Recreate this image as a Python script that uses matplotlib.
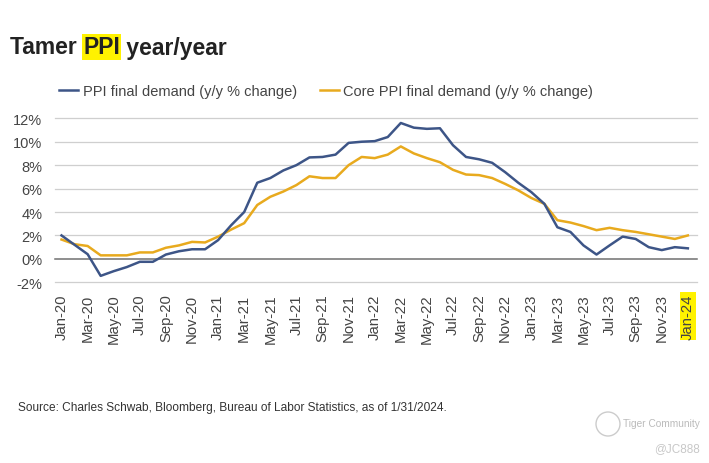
import matplotlib.pyplot as plt
import numpy as np
from matplotlib.patches import Circle
from matplotlib.transforms import IdentityTransform

months = [
    "Jan-20", "Feb-20", "Mar-20", "Apr-20", "May-20", "Jun-20", "Jul-20", "Aug-20",
    "Sep-20", "Oct-20", "Nov-20", "Dec-20", "Jan-21", "Feb-21", "Mar-21", "Apr-21",
    "May-21", "Jun-21", "Jul-21", "Aug-21", "Sep-21", "Oct-21", "Nov-21", "Dec-21",
    "Jan-22", "Feb-22", "Mar-22", "Apr-22", "May-22", "Jun-22", "Jul-22", "Aug-22",
    "Sep-22", "Oct-22", "Nov-22", "Dec-22", "Jan-23", "Feb-23", "Mar-23", "Apr-23",
    "May-23", "Jun-23", "Jul-23", "Aug-23", "Sep-23", "Oct-23", "Nov-23", "Dec-23",
    "Jan-24",
]
ppi = [
    2.0, 1.2, 0.4, -1.45, -1.05, -0.7, -0.25, -0.25, 0.37, 0.65, 0.82, 0.82,
    1.6, 2.87, 4.0, 6.5, 6.9, 7.55, 8.0, 8.66, 8.7, 8.9, 9.9, 10.0,
    10.05, 10.4, 11.6, 11.2, 11.1, 11.15, 9.7, 8.7, 8.5, 8.2, 7.4, 6.5,
    5.7, 4.7, 2.7, 2.3, 1.15, 0.37, 1.15, 1.9, 1.7, 1.0, 0.75, 1.0,
    0.9,
]
core = [
    1.65, 1.25, 1.1, 0.3, 0.3, 0.3, 0.55, 0.55, 0.95, 1.15, 1.45, 1.4,
    1.9, 2.5, 3.05, 4.6, 5.3, 5.75, 6.3, 7.05, 6.9, 6.9, 8.0, 8.7,
    8.6, 8.9, 9.6, 9.0, 8.6, 8.25, 7.6, 7.2, 7.15, 6.9, 6.4, 5.85,
    5.2, 4.7, 3.3, 3.1, 2.8, 2.45, 2.65, 2.45, 2.3, 2.1, 1.9, 1.7,
    2.0,
]
y_ticks = [-2, 0, 2, 4, 6, 8, 10, 12]

plt.rcParams["font.family"] = ["Liberation Sans", "DejaVu Sans"]

W, H = 709, 464
fig = plt.figure(figsize=(W / 100, H / 100), dpi=100)
ax = fig.add_axes([55 / W, 1 - 283.3 / H, (697 - 55) / W, (283.3 - 119.3) / H])

x = np.arange(len(months))
blue = "#3D5587"
gold = "#E8AA1E"
ax.plot(x, ppi, color=blue, lw=1.8, label="PPI final demand (y/y % change)", zorder=3)
ax.plot(x, core, color=gold, lw=1.8, label="Core PPI final demand (y/y % change)", zorder=2)

ax.set_ylim(-2, 12)
ax.set_xlim(-0.5, 48.7)
for v in y_ticks:
    ax.axhline(v, color="#707070" if v == 0 else "#CFCFCF", lw=1.1 if v == 0 else 0.9,
               zorder=1, clip_on=False)

ax.set_yticks(y_ticks)
ax.set_yticklabels([f"{v}%" for v in y_ticks])
ax.set_xticks(x[::2])
ax.set_xticklabels(months[::2], rotation=90)
ax.tick_params(axis="y", length=0, pad=9, labelsize=10.5, labelcolor="#444444")
ax.tick_params(axis="x", length=0, pad=8, labelsize=10.7, labelcolor="#444444")
for s in ax.spines.values():
    s.set_visible(False)
ax.get_xticklabels()[-1].set_bbox(dict(facecolor="#FFF200", edgecolor="none", pad=1))

fig.legend(loc="center left", bbox_to_anchor=(52 / W, 1 - 92 / H), ncol=2, frameon=False,
           fontsize=10.5, handlelength=1.3, handletextpad=0.3, columnspacing=1.6,
           borderpad=0, labelcolor="#444444")

# title with highlighted "PPI"
ty = 1 - 48 / H
fig.canvas.draw()
r = fig.canvas.get_renderer()
t1 = fig.text(10 / W, ty, "Tamer ", fontsize=16.5, fontweight="bold", color="#222222", va="center")
b1 = t1.get_window_extent(r)
t2 = fig.text(b1.x1 / W, ty, "PPI", fontsize=16.5, fontweight="bold", color="#222222", va="center",
              bbox=dict(facecolor="#FFF200", edgecolor="none", pad=1))
b2 = t2.get_window_extent(r)
fig.text(b2.x1 / W, ty, " year/year", fontsize=16.5, fontweight="bold", color="#222222", va="center")

fig.text(18 / W, 1 - 408 / H, "Source: Charles Schwab, Bloomberg, Bureau of Labor Statistics, as of 1/31/2024.",
         fontsize=8.6, color="#333333", va="center")

# watermark
fig.patches.append(Circle((608, H - 425), 12, transform=IdentityTransform(),
                          fill=False, ec="#CCCCCC", lw=1.0))
fig.text(700 / W, 1 - 424 / H, "Tiger Community", fontsize=7.3, color="#BBBBBB", va="center", ha="right")
fig.text(700 / W, 1 - 449 / H, "@JC888", fontsize=8.5, color="#C8C8C8", va="center", ha="right")

fig.savefig("out.png", dpi=100)
